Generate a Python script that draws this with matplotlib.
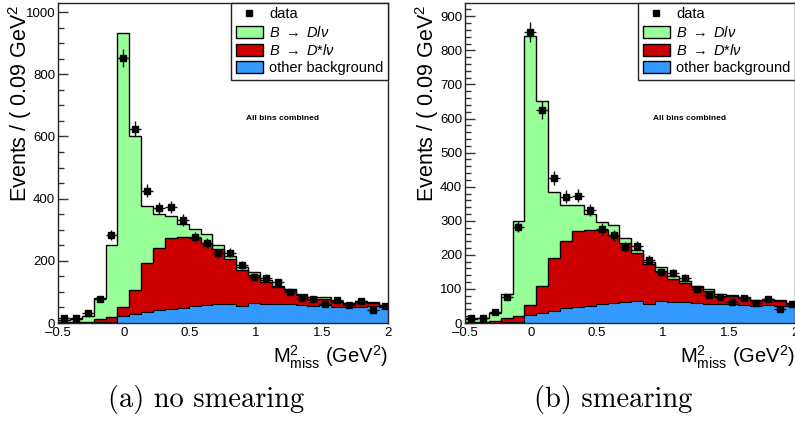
import numpy as np
import matplotlib
matplotlib.use("Agg")
import matplotlib.pyplot as plt
from matplotlib.patches import Patch
from matplotlib.lines import Line2D
from matplotlib.ticker import MultipleLocator

plt.rcParams['font.family'] = ['Liberation Sans', 'DejaVu Sans']
plt.rcParams['mathtext.fontset'] = 'custom'
plt.rcParams['mathtext.rm'] = 'Liberation Sans'
plt.rcParams['mathtext.it'] = 'Liberation Sans:italic'

# binning: 28 bins of 0.09 GeV^2 starting at -0.5
EDGES = -0.5 + 0.09 * np.arange(29)
CENTERS = 0.5 * (EDGES[1:] + EDGES[:-1])

# data points (same in both panels)
data = [15, 15, 33, 77, 283, 853, 625, 425, 370, 373, 331, 276, 258, 224,
        226, 186, 149, 146, 131, 99, 81, 77, 61, 74, 58, 71, 42, 56]

# (a) no smearing, fit components
other_a = [0, 0, 1, 2, 4, 23, 30, 36, 42, 46, 49, 55, 58, 61,
           62, 56, 63, 62, 62, 60, 57, 55, 58, 53, 50, 53, 56, 50]
dstar_a = [2, 2, 2, 11, 16, 30, 76, 156, 198, 226, 227, 217, 199, 176,
           143, 116, 91, 70, 53, 45, 32, 23, 20, 15, 10, 15, 7, 2]
dlnu_a = [8, 11, 21, 66, 231, 880, 495, 185, 109, 72, 41, 29, 28, 13,
          10, 7, 10, 6, 4, 3, 4, 4, 4, 4, 3, 4, 6, 5]

# (b) smearing
other_b = [0, 0, 1, 2, 3, 24, 29, 36, 44, 47, 49, 57, 59, 62,
           64, 56, 64, 63, 62, 59, 57, 55, 57, 52, 51, 52, 51, 49]
dstar_b = [2, 3, 4, 13, 19, 30, 79, 155, 198, 224, 225, 215, 200, 173,
           140, 117, 88, 67, 55, 46, 36, 25, 21, 20, 14, 15, 13, 6]
dlnu_b = [9, 12, 24, 71, 277, 789, 544, 194, 105, 76, 47, 25, 29, 14,
          11, 5, 11, 7, 5, 5, 7, 5, 5, 4, 3, 3, 4, 4]

labels = ['data', r'$B\ \rightarrow\ Dl\nu$', r'$B\ \rightarrow\ D$*$l\nu$',
          'other background']
captions = ['(a) no smearing', '(b) smearing']

C_GREEN = '#99ff99'
C_RED = '#cc0000'
C_BLUE = '#3399ff'

W, H = 795, 421
fig = plt.figure(figsize=(W / 100, H / 100), dpi=100)


def draw_panel(left_px, ymax, ymaj, ymin, comps, caption, txt_y):
    ax = fig.add_axes((left_px / W, (H - 323) / H, 330 / W, 320 / H))
    other, dstar, dlnu = [np.array(c, float) for c in comps]
    s1 = other
    s2 = other + dstar
    s3 = s2 + dlnu
    ax.stairs(s3, EDGES, fill=True, facecolor=C_GREEN, edgecolor='none', zorder=1)
    ax.stairs(s3, EDGES, color='black', lw=1, zorder=1.5, baseline=None)
    ax.stairs(s2, EDGES, fill=True, facecolor=C_RED, edgecolor='none', zorder=2)
    ax.stairs(s2, EDGES, color='black', lw=1, zorder=2.5, baseline=None)
    ax.stairs(s1, EDGES, fill=True, facecolor=C_BLUE, edgecolor='none', zorder=3)
    ax.stairs(s1, EDGES, color='black', lw=0.8, zorder=3.5, baseline=None)

    d = np.array(data, float)
    ax.errorbar(CENTERS, d, yerr=np.sqrt(d), xerr=0.045, fmt='s', color='black',
                ms=4.8, lw=1, ecolor='#111111', capsize=0, zorder=5)

    ax.set_xlim(-0.5, 2.0)
    ax.set_ylim(0, ymax)
    ax.yaxis.set_major_locator(MultipleLocator(ymaj))
    ax.yaxis.set_minor_locator(MultipleLocator(ymin))
    ax.xaxis.set_major_locator(MultipleLocator(0.5))
    ax.xaxis.set_major_formatter(plt.FuncFormatter(
        lambda v, p: ('%g' % v).replace('-', '\u2013')))
    ax.tick_params(axis='y', which='major', direction='in', length=7.5,
                   width=1, color='#333333', labelsize=9.5, pad=2)
    ax.tick_params(axis='y', which='minor', direction='in', length=4,
                   width=1, color='#333333')
    ax.tick_params(axis='x', which='major', direction='in', length=0,
                   labelsize=9.5, pad=3)
    for sp in ax.spines.values():
        sp.set_linewidth(1)
        sp.set_color('#222222')
        sp.set_zorder(10)

    ax.text(1.2, txt_y, 'All bins combined', fontsize=6, fontweight='bold',
            ha='center', va='center')

    handles = [Line2D([], [], marker='s', color='black', ls='none', ms=5),
               Patch(facecolor=C_GREEN, edgecolor='black', lw=1),
               Patch(facecolor=C_RED, edgecolor='black', lw=1),
               Patch(facecolor=C_BLUE, edgecolor='black', lw=1)]
    leg = ax.legend(handles, labels, loc='upper right', bbox_to_anchor=(1, 1),
                    borderaxespad=0, fontsize=10.5, fancybox=False,
                    handlelength=1.85, handleheight=0.9, handletextpad=0.45,
                    labelspacing=0.22, borderpad=0.3, framealpha=1)
    leg.get_frame().set_edgecolor('#222222')
    leg.get_frame().set_linewidth(1)
    leg.set_zorder(20)

    fig.text((left_px - 38) / W, 1.02, 'Events / ( 0.09 GeV$^{2}$ )',
             rotation=90, ha='center', va='top', fontsize=15.5)
    fig.text((left_px + 330) / W, (H - 357) / H,
             r'$\mathrm{M}^{2}_{\mathrm{miss}}$ (GeV$^{2}$)',
             ha='right', va='center', fontsize=14.5)
    fig.text((left_px + 148) / W, (H - 399) / H, caption, ha='center',
             va='center', fontsize=20.5, family='cmr10')
    return ax


draw_panel(58, 1029, 200, 50, (other_a, dstar_a, dlnu_a), captions[0], 656)
draw_panel(465, 939, 100, 20, (other_b, dstar_b, dlnu_b), captions[1], 600)

fig.savefig('out.png', dpi=100)
